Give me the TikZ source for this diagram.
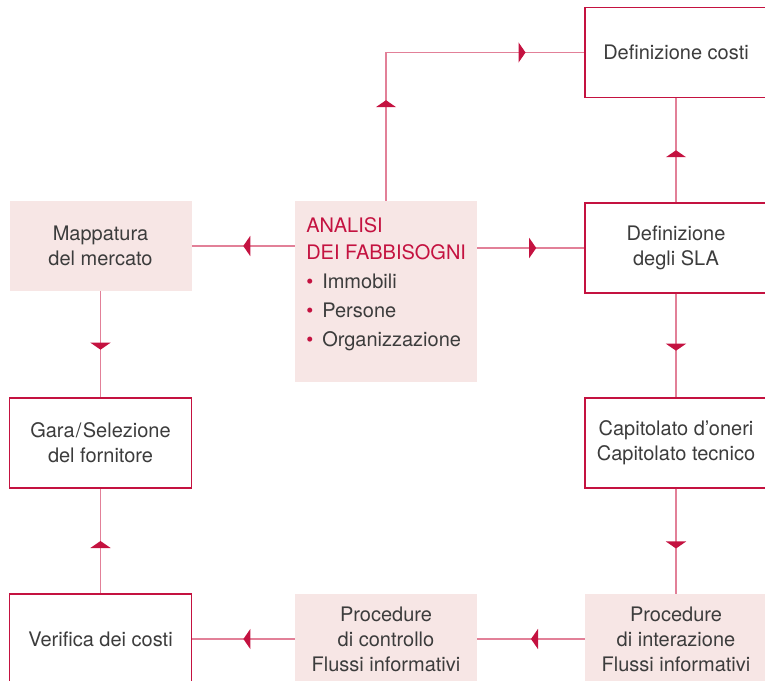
\documentclass[tikz,border=0pt]{standalone}
\usepackage{fontspec}
\setmainfont{TeX Gyre Heros}
\usetikzlibrary{decorations.markings}
\usetikzlibrary{arrows.meta}
\definecolor{acc}{RGB}{196,18,64}
\definecolor{linecol}{RGB}{226,128,152}
\definecolor{boxfill}{RGB}{247,230,229}
\definecolor{txt}{RGB}{60,60,60}

\begin{document}
\begin{tikzpicture}[x=0.75pt,y=-0.75pt,
  every node/.style={font=\fontsize{15}{18.75}\selectfont,text=txt,align=center},
  framebox/.style={draw=acc,line width=0.8pt,fill=white,minimum width=136.5pt,minimum height=67.5pt,inner sep=0pt},
  fillbox/.style={fill=boxfill,minimum width=136.5pt,minimum height=67.5pt,inner sep=0pt},
  anatxt/.style={anchor=base west,inner sep=0pt,align=left},
  link/.style={draw=linecol,line width=1pt},
  midtip/.style={postaction={decorate,decoration={markings,
    mark=at position #1 with {\arrow{Triangle[length=5.25pt,width=15pt,color=acc]}}}}}]
\path[use as bounding box] (0,0) rectangle (765,681);
\clip (0,0) rectangle (765,681);
% boxes
\node[fillbox] (mapp) at (100.5,246) {Mappatura\\del mercato};
\node[fillbox,minimum height=135.75pt] (ana) at (386,291.5) {};
\node[framebox] (dc) at (676,52.5) {Definizione costi};
\node[framebox] (sla) at (676,248) {Definizione\\degli SLA};
\node[framebox] (cap) at (676,443) {Capitolato d’oneri\\Capitolato tecnico};
\node[fillbox] (pint) at (676,639) {\fontsize{15}{18}\selectfont Procedure\\di interazione\\Flussi informativi};
\node[fillbox] (pctl) at (386,639) {\fontsize{15}{18}\selectfont Procedure\\di controllo\\Flussi informativi};
\node[framebox] (ver) at (100.5,639) {Verifica dei costi};
\node[framebox] (gara) at (100.5,443) {Gara\kern1pt/\kern1pt Selezione\\del fornitore};
% analisi dei fabbisogni
\node[anatxt,text=acc] (anat1) at (306,233) {ANALISI};
\node[anatxt,text=acc] (anat2) at (306,260) {DEI FABBISOGNI};
\node[anatxt] (anab1) at (306,289) {\makebox[12pt][l]{\textcolor{acc}{\textbullet}}Immobili};
\node[anatxt] (anab2) at (306,318) {\makebox[12pt][l]{\textcolor{acc}{\textbullet}}Persone};
\node[anatxt] (anab3) at (306,347) {\makebox[12pt][l]{\textcolor{acc}{\textbullet}}Organizzazione};
% connectors
\draw[link,midtip=0.5] (ana.west |- mapp.east) -- (mapp.east);
\draw[link,midtip=0.55] (ana.east |- sla.west) -- (sla.west);
\draw[link,midtip=0.29,midtip=0.83] (ana.north) |- (dc.west);
\draw[link,midtip=0.5] (sla.north) -- (dc.south);
\draw[link,midtip=0.55] (sla.south) -- (cap.north);
\draw[link,midtip=0.57] (cap.south) -- (pint.north);
\draw[link,midtip=0.5] (pint.west) -- (pctl.east);
\draw[link,midtip=0.5] (pctl.west) -- (ver.east);
\draw[link,midtip=0.55] (mapp.south) -- (gara.north);
\draw[link,midtip=0.5] (ver.north) -- (gara.south);
\end{tikzpicture}
\end{document}
